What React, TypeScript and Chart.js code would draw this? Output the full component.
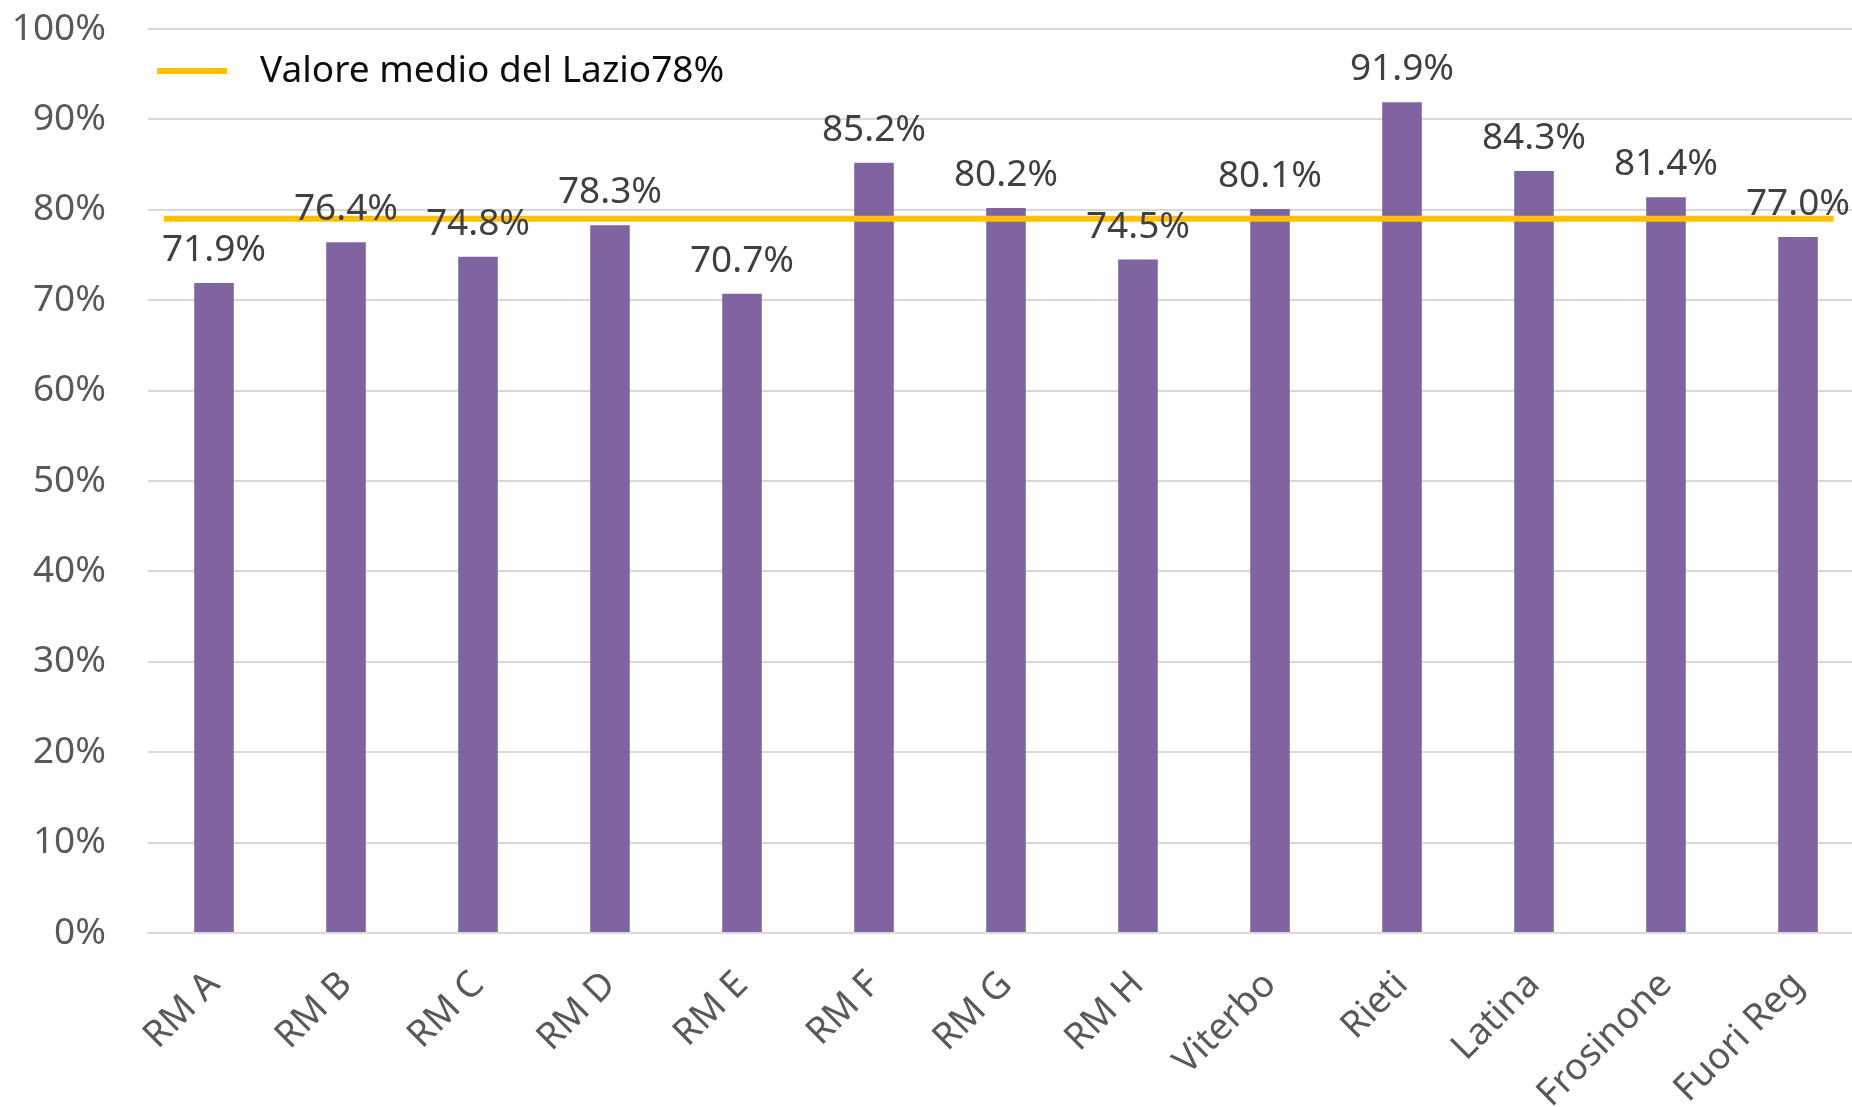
import React, { useEffect, useRef } from "react";
import { Chart, registerables } from "chart.js";

Chart.register(...registerables);

const categories = [
  "RM A", "RM B", "RM C", "RM D", "RM E", "RM F", "RM G",
  "RM H", "Viterbo", "Rieti", "Latina", "Frosinone", "Fuori Reg",
];
const values = [71.9, 76.4, 74.8, 78.3, 70.7, 85.2, 80.2, 74.5, 80.1, 91.9, 84.3, 81.4, 77.0];
const averageLabel = "Valore medio del Lazio78%";
const averageValue = 79;
// extent of the average line, in category-index units
const averageStart = -0.38;
const averageEnd = 12.27;
const yMin = 0;
const yMax = 100;
const yStep = 10;

const FONT = "'Noto Sans', 'Open Sans', sans-serif";
const FONT_SIZE = 37;

const dataLabelsPlugin = {
  id: "dataLabels",
  afterDatasetsDraw(chart: any) {
    const ctx = chart.ctx;
    const meta = chart.getDatasetMeta(0);
    const data = chart.data.datasets[0].data as number[];
    ctx.save();
    ctx.font = `${FONT_SIZE}px ${FONT}`;
    ctx.fillStyle = "#404040";
    ctx.textAlign = "center";
    ctx.textBaseline = "alphabetic";
    meta.data.forEach((el: any, i: number) => {
      ctx.fillText(data[i].toFixed(1) + "%", el.x, el.y - 22);
    });
    ctx.restore();
  },
};

const legendPlugin = {
  id: "insideLegend",
  afterDraw(chart: any) {
    const ctx = chart.ctx;
    const ds = chart.data.datasets[1];
    const { left, top } = chart.chartArea;
    const y = top + 42;
    ctx.save();
    ctx.strokeStyle = ds.borderColor;
    ctx.lineWidth = 6;
    ctx.beginPath();
    ctx.moveTo(left + 9, y);
    ctx.lineTo(left + 79, y);
    ctx.stroke();
    ctx.font = `${FONT_SIZE}px ${FONT}`;
    ctx.fillStyle = "#0d0d0d";
    ctx.textAlign = "left";
    ctx.textBaseline = "middle";
    ctx.fillText(ds.label, left + 112, y);
    ctx.restore();
  },
};

export default function App() {
  const canvasRef = useRef<HTMLCanvasElement | null>(null);

  useEffect(() => {
    const canvas = canvasRef.current;
    if (!canvas) return;
    const chart = new Chart(canvas, {
      type: "bar",
      data: {
        labels: categories,
        datasets: [
          {
            type: "bar",
            label: "Valori",
            data: values,
            backgroundColor: "#8064A2",
            borderWidth: 0,
            grouped: false,
            barPercentage: 0.6,
            categoryPercentage: 0.5,
            order: 2,
          } as any,
          {
            type: "line",
            label: averageLabel,
            data: [
              { x: averageStart, y: averageValue },
              { x: averageEnd, y: averageValue },
            ],
            xAxisID: "x2",
            borderColor: "#FFC000",
            backgroundColor: "#FFC000",
            borderWidth: 6,
            pointRadius: 0,
            fill: false,
            order: 1,
          } as any,
        ],
      },
      options: {
        responsive: false,
        animation: false,
        layout: { padding: { left: 0, right: 6, top: 29, bottom: 0 } },
        plugins: {
          legend: { display: false },
          tooltip: { enabled: false },
        },
        scales: {
          x: {
            type: "category",
            offset: true,
            grid: { display: false, drawTicks: false },
            border: { display: true, color: "#D9D9D9", width: 2 },
            ticks: {
              minRotation: 45,
              maxRotation: 45,
              padding: 30,
              color: "#595959",
              font: { family: FONT, size: FONT_SIZE },
            },
            afterFit(scale: any) {
              scale.height = 174;
            },
          },
          x2: {
            type: "linear",
            display: false,
            min: -0.5,
            max: categories.length - 0.5,
            offset: false,
          },
          y: {
            min: yMin,
            max: yMax,
            ticks: {
              stepSize: yStep,
              padding: 42,
              color: "#595959",
              font: { family: FONT, size: FONT_SIZE },
              callback: (v: any) => `${v}%`,
            },
            grid: { color: "#D9D9D9", lineWidth: 2, drawTicks: false },
            border: { display: false },
            afterFit(scale: any) {
              scale.width = 148;
              scale.paddingTop = 0;
              scale.paddingBottom = 0;
            },
          },
        },
      },
      plugins: [dataLabelsPlugin, legendPlugin],
    });
    return () => chart.destroy();
  }, []);

  return (
    <div
      style={{
        position: "fixed",
        left: 0,
        top: 0,
        width: 1852,
        height: 1107,
        overflow: "hidden",
        background: "#fff",
      }}
    >
      <canvas ref={canvasRef} width={1870} height={1107} style={{ display: "block" }} />
    </div>
  );
}
